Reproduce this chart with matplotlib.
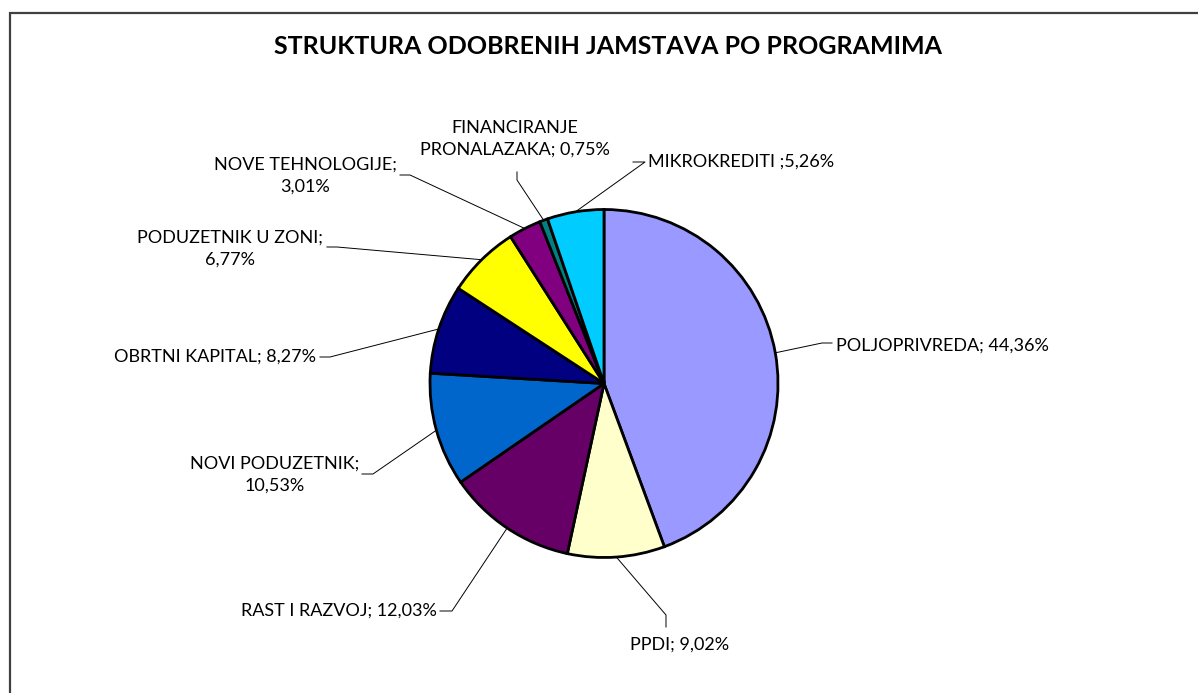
import matplotlib
matplotlib.use("Agg")
import matplotlib.pyplot as plt
import numpy as np
from matplotlib.patches import Rectangle

plt.rcParams['font.family'] = ['Lato', 'DejaVu Sans']

title = "STRUKTURA ODOBRENIH JAMSTAVA PO PROGRAMIMA"
categories = ["POLJOPRIVREDA", "PPDI", "RAST I RAZVOJ", "NOVI PODUZETNIK",
              "OBRTNI KAPITAL", "PODUZETNIK U ZONI", "NOVE TEHNOLOGIJE",
              "FINANCIRANJE PRONALAZAKA", "MIKROKREDITI"]
values = [44.36, 9.02, 12.03, 10.53, 8.27, 6.77, 3.01, 0.75, 5.26]
label_texts = ["POLJOPRIVREDA; 44,36%", "PPDI; 9,02%", "RAST I RAZVOJ; 12,03%",
               "NOVI PODUZETNIK;\n10,53%", "OBRTNI KAPITAL; 8,27%",
               "PODUZETNIK U ZONI;\n6,77%", "NOVE TEHNOLOGIJE;\n3,01%",
               "FINANCIRANJE\nPRONALAZAKA; 0,75%", "MIKROKREDITI ;5,26%"]
colors = ["#9999FF", "#FFFFCC", "#660066", "#0066CC", "#000080",
          "#FFFF00", "#800080", "#008080", "#00CCFF"]

W, H = 1198, 693
fig = plt.figure(figsize=(W / 100, H / 100), dpi=100)
ax = fig.add_axes([0, 0, 1, 1])
ax.set_xlim(0, W)
ax.set_ylim(0, H)
ax.set_aspect('equal')
ax.axis('off')

def py(y):  # pixel-from-top to data y
    return H - y

cx, cy, r = 604, 383.5, 174
wedges, _ = ax.pie(values, colors=colors, startangle=90, counterclock=False,
                   center=(cx, py(cy)), radius=r,
                   wedgeprops=dict(edgecolor='black', linewidth=2.0))
ax.set_xlim(0, W)
ax.set_ylim(0, H)

# label layout: (text x, text y, ha, elbow points from label side)
layout = [
    (836, 346, 'left',   [(832, 343), (822, 343)]),
    (680, 645, 'center', [(666, 627), (666, 615)]),
    (437, 611, 'right',  [(440, 611), (452, 611)]),
    (275, 475, 'center', [(362, 474), (373, 474)]),
    (316, 357, 'right',  [(320, 357), (330, 357)]),
    (230, 249, 'center', [(327, 247), (337, 247)]),
    (305, 176, 'center', [(400, 175), (410, 175)]),
    (515, 139, 'center', [(517, 172), (517, 180)]),
    (648, 162, 'left',   [(633, 162), (645, 162)]),
]

for w, txt, (tx, ty, ha, pts) in zip(wedges, label_texts, layout):
    ang = np.deg2rad((w.theta1 + w.theta2) / 2)
    ex = cx + r * np.cos(ang)
    ey = py(cy) + r * np.sin(ang)
    xs = [p[0] for p in pts] + [ex]
    ys = [py(p[1]) for p in pts] + [ey]
    ax.plot(xs, ys, color='black', lw=0.7)
    ax.text(tx, py(ty), txt, ha=ha, va='center', fontsize=13,
            linespacing=1.45, color='black')

ax.text(608, py(47), title, ha='center', va='center', fontsize=18,
        fontweight='bold', color='black')

fig.patches.append(Rectangle((10 / W, -0.1), 1.2, (H - 13) / H + 0.1,
                             transform=fig.transFigure, fill=False,
                             edgecolor='#404040', linewidth=1.6))

fig.savefig("out.png", dpi=100, facecolor='white')
